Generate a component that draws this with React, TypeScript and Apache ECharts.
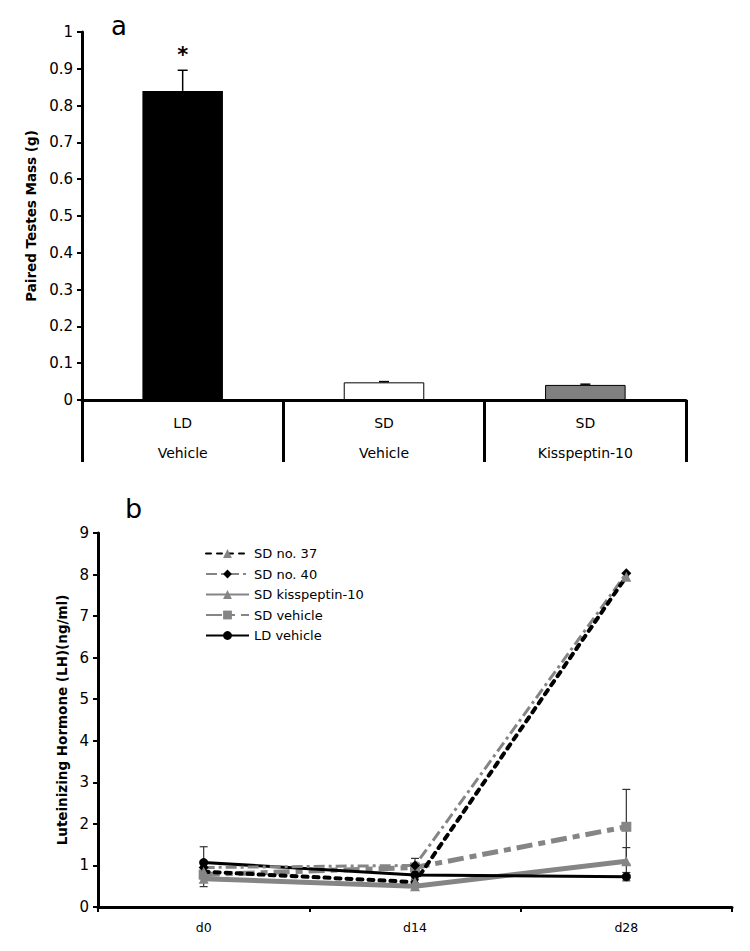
import React, { useEffect, useRef } from "react";
import * as echarts from "echarts";

// ---------- Panel a data ----------
const barCategories = ["LD\nVehicle", "SD\nVehicle", "SD\nKisspeptin-10"];
const barValues = [0.84, 0.048, 0.041];
const barErrors = [0.056, 0.002, 0.002];
const barSignificance = ["*", "", ""];
const barColors = ["#000000", "#ffffff", "#808080"];

// ---------- Panel b data ----------
const days = ["d0", "d14", "d28"];
const sdNo37 = [0.85, 0.6, 7.95];
const sdNo40 = [0.95, 1.0, 8.03];
const sdKiss = [0.68, 0.5, 1.1];
const sdKissErr = [0.19, 0.08, 0.33];
const sdVehicle = [0.78, 0.95, 1.93];
const sdVehicleErr = [0.1, 0.22, 0.9];
const ldVehicle = [1.07, 0.77, 0.73];
const ldVehicleErr = [0.38, 0.1, 0.1];
const legendNames = ["SD no. 37", "SD no. 40", "SD kisspeptin-10", "SD vehicle", "LD vehicle"];

const FONT = "DejaVu Sans";
const GRAY = "#858585";

export default function App() {
  const ref = useRef<HTMLDivElement>(null);

  useEffect(() => {
    if (!ref.current) return;
    const chart = echarts.init(ref.current, null, { renderer: "svg" });

    const barErrData = barValues.map((v, i) => [i, v, barErrors[i]]);

    const lineErrData: any[] = [];
    const pushErr = (vals: number[], errs: number[]) => {
      vals.forEach((v, i) => lineErrData.push([i, v, errs[i]]));
    };
    pushErr(sdKiss, sdKissErr);
    pushErr(sdVehicle, sdVehicleErr);
    pushErr(ldVehicle, ldVehicleErr);

    const option: any = {
      animation: false,
      backgroundColor: "#ffffff",
      textStyle: { fontFamily: FONT, color: "#000" },
      graphic: [
        { type: "text", left: 111, top: 13, style: { text: "a", font: `26px ${FONT}`, fill: "#000" } },
        { type: "text", left: 125, top: 495, style: { text: "b", font: `27px ${FONT}`, fill: "#000" } },
      ],
      legend: {
        orient: "vertical",
        left: 200,
        top: 542,
        itemWidth: 43,
        itemHeight: 11,
        itemGap: 7.5,
        data: legendNames,
        textStyle: { fontFamily: FONT, fontSize: 13, color: "#000" },
      },
      grid: [
        { left: 82, right: 64, top: 32, bottom: 551 },
        { left: 98, right: 18, top: 533, bottom: 44 },
      ],
      xAxis: [
        {
          gridIndex: 0,
          type: "category",
          data: barCategories,
          boundaryGap: true,
          axisLine: { lineStyle: { color: "#000", width: 3 } },
          axisTick: { show: true, length: 62, lineStyle: { color: "#000", width: 3 } },
          axisLabel: { interval: 0, fontSize: 14, lineHeight: 30, margin: 8, color: "#000", fontFamily: FONT },
        },
        {
          gridIndex: 1,
          type: "category",
          data: days,
          boundaryGap: true,
          axisLine: { lineStyle: { color: "#000", width: 3 } },
          axisTick: { show: true, length: 5, lineStyle: { color: "#000", width: 2 } },
          axisLabel: { interval: 0, fontSize: 12.5, margin: 14, color: "#000", fontFamily: FONT },
        },
      ],
      yAxis: [
        {
          gridIndex: 0,
          type: "value",
          min: 0,
          max: 1,
          interval: 0.1,
          name: "Paired Testes Mass (g)",
          nameLocation: "middle",
          nameGap: 40,
          nameTextStyle: { fontSize: 13.5, fontWeight: "bold", color: "#000", fontFamily: FONT },
          splitLine: { show: false },
          axisLine: { show: true, lineStyle: { color: "#000", width: 3 } },
          axisTick: { show: true, length: 5, lineStyle: { color: "#000", width: 2 } },
          axisLabel: { fontSize: 15, margin: 9, color: "#000", fontFamily: FONT },
        },
        {
          gridIndex: 1,
          type: "value",
          min: 0,
          max: 9,
          interval: 1,
          name: "Luteinizing Hormone (LH)(ng/ml)",
          nameLocation: "middle",
          nameGap: 22,
          nameTextStyle: { fontSize: 13.5, fontWeight: "bold", color: "#000", fontFamily: FONT },
          splitLine: { show: false },
          axisLine: { show: true, lineStyle: { color: "#000", width: 3 } },
          axisTick: { show: true, length: 5, lineStyle: { color: "#000", width: 2 } },
          axisLabel: { fontSize: 15, margin: 9, color: "#000", fontFamily: FONT },
        },
      ],
      series: [
        {
          type: "bar",
          xAxisIndex: 0,
          yAxisIndex: 0,
          barWidth: "40%",
          data: barValues.map((v, i) => ({
            value: v,
            itemStyle: { color: barColors[i], borderColor: "#000", borderWidth: i === 0 ? 0 : 1 },
          })),
        },
        {
          type: "custom",
          xAxisIndex: 0,
          yAxisIndex: 0,
          data: barErrData,
          z: 5,
          renderItem: (params: any, api: any) => {
            const x = api.value(0);
            const v = api.value(1);
            const e = api.value(2);
            const sig = barSignificance[params.dataIndex];
            const p0 = api.coord([x, v]);
            const p1 = api.coord([x, v + e]);
            const children: any[] = [
              { type: "line", shape: { x1: p0[0], y1: p0[1], x2: p1[0], y2: p1[1] }, style: { stroke: "#000", lineWidth: 1.5 } },
              { type: "line", shape: { x1: p1[0] - 5, y1: p1[1], x2: p1[0] + 5, y2: p1[1] }, style: { stroke: "#000", lineWidth: 1.5 } },
            ];
            if (sig) {
              children.push({
                type: "text",
                x: p1[0],
                y: p1[1] - 5,
                style: { text: sig, font: `bold 21px ${FONT}`, fill: "#000", align: "center", verticalAlign: "bottom" },
              });
            }
            return { type: "group", children };
          },
        },
        {
          type: "custom",
          xAxisIndex: 1,
          yAxisIndex: 1,
          data: lineErrData,
          z: 1,
          renderItem: (params: any, api: any) => {
            const x = api.value(0);
            const v = api.value(1);
            const e = api.value(2);
            const pl = api.coord([x, v - e]);
            const ph = api.coord([x, v + e]);
            const st = { stroke: "#333", lineWidth: 1.2 };
            return {
              type: "group",
              children: [
                { type: "line", shape: { x1: pl[0], y1: pl[1], x2: ph[0], y2: ph[1] }, style: st },
                { type: "line", shape: { x1: ph[0] - 4, y1: ph[1], x2: ph[0] + 4, y2: ph[1] }, style: st },
                { type: "line", shape: { x1: pl[0] - 4, y1: pl[1], x2: pl[0] + 4, y2: pl[1] }, style: st },
              ],
            };
          },
        },
        {
          name: "SD vehicle",
          type: "line",
          xAxisIndex: 1,
          yAxisIndex: 1,
          data: sdVehicle,
          symbol: "rect",
          symbolSize: 10,
          z: 2,
          lineStyle: { color: GRAY, width: 5, type: [16, 6, 7, 6] },
          itemStyle: { color: GRAY },
        },
        {
          name: "SD kisspeptin-10",
          type: "line",
          xAxisIndex: 1,
          yAxisIndex: 1,
          data: sdKiss,
          symbol: "triangle",
          symbolSize: 10,
          z: 2,
          lineStyle: { color: GRAY, width: 5, type: "solid" },
          itemStyle: { color: GRAY },
        },
        {
          name: "LD vehicle",
          type: "line",
          xAxisIndex: 1,
          yAxisIndex: 1,
          data: ldVehicle,
          symbol: "circle",
          symbolSize: 9,
          z: 3,
          lineStyle: { color: "#000", width: 3, type: "solid" },
          itemStyle: { color: "#000" },
        },
        {
          name: "SD no. 40",
          type: "line",
          xAxisIndex: 1,
          yAxisIndex: 1,
          data: sdNo40,
          symbol: "diamond",
          symbolSize: 10,
          z: 3,
          lineStyle: { color: GRAY, width: 3, type: [11, 4, 3, 4] },
          itemStyle: { color: "#000" },
        },
        {
          name: "SD no. 37",
          type: "line",
          xAxisIndex: 1,
          yAxisIndex: 1,
          data: sdNo37,
          symbol: "triangle",
          symbolSize: 10,
          z: 4,
          lineStyle: { color: "#000", width: 4, type: [5, 6], cap: "round" },
          itemStyle: { color: GRAY },
        },
      ],
    };

    chart.setOption(option);
    return () => chart.dispose();
  }, []);

  return (
    <div
      ref={ref}
      style={{ position: "fixed", left: 0, top: 0, width: 750, height: 951, background: "#fff" }}
    />
  );
}
